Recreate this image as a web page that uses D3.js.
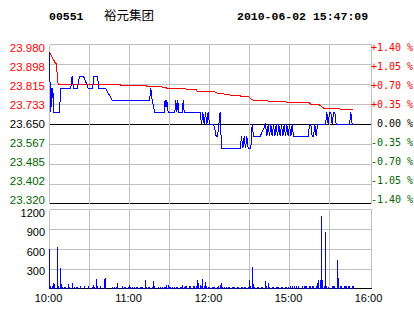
<!DOCTYPE html>
<html>
<head>
<meta charset="utf-8">
<script src="https://cdn.jsdelivr.net/npm/d3@7"></script>
<style>
html, body { margin: 0; padding: 0; background: #fff; }
svg { display: block; }
</style>
</head>
<body>
<div id="chart"></div>
<script>
// --- Data ---
const stockCode = "00551";
const stockName = "裕元集团";
const stamp = "2010-06-02 15:47:09";

const priceTicks = ["23.980", "23.898", "23.815", "23.733", "23.650", "23.567", "23.485", "23.402", "23.320"];
const pctTicks = ["+1.40 %", "+1.05 %", "+0.70 %", "+0.35 %", " 0.00 %", "-0.35 %", "-0.70 %", "-1.05 %", "-1.40 %"];
const volTicks = [1200, 900, 600, 300];
const timeTicks = [0, 60, 120, 180, 240];            // trading minutes from 10:00 (lunch cut out)
const timeLabels = ["10:00", "11:00", "12:00", "15:00", "16:00"];

// [minute, price]
const priceLine = [
  [0, 23.95], [0.4, 23.82], [1, 23.70], [1.6, 23.80], [2.1, 23.76], [2.5, 23.80], [3.2, 23.70],
  [7.3, 23.70], [8, 23.75], [8.6, 23.80], [16, 23.80], [17, 23.85], [18, 23.80], [21, 23.80],
  [22.5, 23.85], [25.5, 23.85], [29, 23.80], [32.5, 23.80], [33, 23.85], [36, 23.85], [37, 23.80],
  [42, 23.80], [47, 23.75], [75, 23.75], [76, 23.80], [77, 23.75], [79, 23.70], [86, 23.70],
  [86.7, 23.75], [87.3, 23.72], [88, 23.75], [89, 23.70], [94, 23.70], [94.7, 23.75], [95.5, 23.70],
  [96.2, 23.75], [97, 23.70], [99.5, 23.70], [100.3, 23.75], [101, 23.70], [113, 23.70],
  [114, 23.65], [115, 23.70], [116, 23.65], [117, 23.70], [118, 23.65], [119, 23.70], [120, 23.65],
  [123, 23.65], [124, 23.63], [125, 23.60], [126, 23.60], [127, 23.65], [128, 23.70], [129, 23.55],
  [143, 23.55], [144, 23.60], [145, 23.55], [146, 23.60], [147, 23.55], [148, 23.60], [149, 23.55],
  [151, 23.55], [152, 23.65], [153, 23.60], [158, 23.60], [162, 23.65],
  [163, 23.60], [164, 23.65], [165, 23.60], [166, 23.65], [167, 23.60], [168, 23.65], [169, 23.60],
  [170, 23.65], [171, 23.60], [172, 23.65], [173, 23.60], [174, 23.65], [175, 23.60], [176, 23.65],
  [177, 23.60], [178, 23.65], [179, 23.60], [180, 23.65], [181, 23.60], [182, 23.65], [183, 23.60],
  [194, 23.60], [195, 23.65], [196, 23.65], [197, 23.60], [198, 23.60], [199, 23.65], [200, 23.60],
  [201, 23.65], [207, 23.65], [208, 23.70], [209, 23.65], [210, 23.70], [211, 23.70], [212, 23.65],
  [213, 23.70], [214, 23.70], [215, 23.65], [225, 23.65], [226, 23.70], [227, 23.65], [228, 23.65]
];

// [minute, average price]
const avgLine = [
  [0, 23.950], [4, 23.908], [5.3, 23.899], [6, 23.830], [6.5, 23.817], [52, 23.815], [54, 23.812],
  [71, 23.810], [76, 23.807], [87, 23.804], [88, 23.800], [102, 23.799], [103, 23.794], [110, 23.793],
  [111, 23.787], [124, 23.785], [125, 23.780], [130, 23.778], [132, 23.774], [135, 23.773],
  [136, 23.768], [149, 23.767], [151, 23.755], [153, 23.750], [163, 23.748], [164, 23.746],
  [177, 23.745], [178, 23.740], [195, 23.739], [196, 23.733], [202, 23.732], [205, 23.720],
  [206, 23.714], [228, 23.713]
];

// volume per minute, minute 0 .. 228
const volume = [
  600, 45, 40, 95, 70, 0, 640, 40, 320, 80,
  30, 30, 30, 0, 70, 30, 0, 90, 0, 30,
  30, 30, 0, 40, 0, 0, 40, 0, 0, 40,
  0, 0, 30, 60, 30, 145, 40, 0, 40, 0,
  0, 145, 167, 0, 0, 0, 0, 30, 0, 30,
  30, 90, 0, 0, 0, 40, 30, 30, 0, 30,
  60, 30, 30, 0, 30, 30, 30, 0, 30, 30,
  30, 0, 135, 30, 30, 30, 0, 30, 120, 40,
  0, 0, 30, 30, 0, 30, 30, 30, 65, 60,
  30, 30, 30, 0, 30, 30, 30, 0, 30, 30,
  60, 30, 40, 40, 0, 40, 40, 0, 40, 40,
  40, 140, 90, 60, 40, 155, 40, 100, 40, 30,
  30, 0, 30, 30, 30, 0, 30, 40, 60, 90,
  30, 30, 0, 30, 30, 30, 0, 30, 30, 30,
  0, 30, 30, 0, 30, 30, 30, 30, 0, 30,
  140, 40, 335, 80, 30, 0, 30, 30, 0, 30,
  30, 0, 115, 40, 95, 30, 0, 30, 30, 0,
  30, 30, 30, 0, 30, 30, 0, 30, 30, 30,
  0, 35, 35, 0, 35, 35, 0, 35, 0, 0,
  35, 35, 40, 35, 0, 35, 35, 50, 40, 0,
  35, 90, 140, 140, 1100, 130, 40, 870, 40, 30,
  0, 0, 35, 40, 35, 0, 430, 165, 35, 35,
  0, 35, 35, 40, 35, 35, 0, 35, 35
];

// --- Chart ---
const W = 414, H = 314;
const RED = "#ff0000", GREEN = "#006400", GRID = "#c0c0c0", BLUE = "#0000ff";
const crisp = v => Math.floor(v) + 0.5;

const svg = d3.select('#chart').append('svg').attr('width', W).attr('height', H)
  .style('font-family', '"Liberation Sans", Arial, sans-serif');

const x = d3.scaleLinear().domain([0, 240]).range([49.5, 369.5]);
const xRight = 371;
const y = d3.scaleLinear().domain([23.32, 23.98]).range([203.8, 44.8]);
const yv = d3.scaleLinear().domain([0, 1200]).range([288.8, 209.8]);
// label rows sit a bit off the grid rows in the original
const labelY = d3.scaleLinear().domain([0, 8]).range([47.5, 199.5]);
const volLabelY = d3.scaleLinear().domain([1200, 300]).range([213.3, 270.7]);

const colorFor = i => i < 4 ? RED : (i === 4 ? "#000" : GREEN);

// header
svg.append('text').attr('x', 49).attr('y', 20).text(stockCode)
  .style('font-family', '"Liberation Mono", monospace').style('font-weight', 'bold').style('font-size', '11.5px');
svg.append('text').attr('x', 104).attr('y', 20).text(stockName)
  .style('font-family', '"Noto Sans CJK SC", sans-serif').style('font-size', '12.5px');
svg.append('text').attr('x', 237).attr('y', 20).text(stamp)
  .style('font-family', '"Liberation Mono", monospace').style('font-weight', 'bold').style('font-size', '11.5px');

const grid = svg.append('g').attr('shape-rendering', 'crispEdges');

// main panel grid
priceTicks.forEach((t, i) => {
  const yy = crisp(y(+t));
  grid.append('line').attr('x1', x(0)).attr('x2', xRight + 0.5).attr('y1', yy).attr('y2', yy)
    .attr('stroke', (i === 4 || i === 8) ? '#000' : GRID);
});
d3.range(0, 241, 30).forEach(m => {
  const xx = m === 240 ? xRight + 0.5 : crisp(x(m));
  grid.append('line').attr('x1', xx).attr('x2', xx).attr('y1', crisp(y(23.98))).attr('y2', crisp(y(23.32)))
    .attr('stroke', GRID);
  grid.append('line').attr('x1', xx).attr('x2', xx).attr('y1', crisp(yv(1200))).attr('y2', crisp(yv(0)))
    .attr('stroke', GRID);
});
// volume panel grid
[1200, 900, 600, 300, 0].forEach(v => {
  const yy = crisp(yv(v));
  grid.append('line').attr('x1', x(0)).attr('x2', xRight + 0.5).attr('y1', yy).attr('y2', yy)
    .attr('stroke', v === 0 ? '#000' : GRID);
});

// price axis labels
svg.append('g').selectAll('text').data(priceTicks).join('text')
  .attr('x', 45).attr('y', (d, i) => labelY(i) + 4)
  .attr('text-anchor', 'end').attr('fill', (d, i) => colorFor(i))
  .style('font-size', '11.5px').text(d => d);

svg.append('g').selectAll('text').data(pctTicks).join('text')
  .attr('x', 371).attr('y', (d, i) => labelY(i) + 3.6)
  .attr('fill', (d, i) => colorFor(i)).attr('xml:space', 'preserve')
  .style('font-family', '"DejaVu Sans Mono", monospace').style('font-size', '10px').style('white-space', 'pre')
  .text(d => d);

svg.append('g').selectAll('text').data(volTicks).join('text')
  .attr('x', 45).attr('y', d => volLabelY(d) + 4)
  .attr('text-anchor', 'end').style('font-size', '11px').text(d => d);

svg.append('g').selectAll('text').data(timeTicks).join('text')
  .attr('x', d => x(d) - 1).attr('y', 302)
  .attr('text-anchor', 'middle').style('font-size', '11px').text((d, i) => timeLabels[i]);

// volume bars
svg.append('g').attr('shape-rendering', 'crispEdges').selectAll('rect')
  .data(volume.map((v, i) => [i, v]).filter(d => d[1] > 0)).join('rect')
  .attr('x', d => Math.floor(x(d[0])))
  .attr('width', 1)
  .attr('y', d => yv(d[1]))
  .attr('height', d => yv(0) - yv(d[1]))
  .attr('fill', BLUE);

// lines
const line = d3.line().x(d => x(d[0])).y(d => y(d[1]));
svg.append('path').datum(avgLine).attr('d', line)
  .attr('fill', 'none').attr('stroke', RED).attr('stroke-width', 1).attr('shape-rendering', 'crispEdges');
svg.append('path').datum(priceLine).attr('d', line)
  .attr('fill', 'none').attr('stroke', BLUE).attr('stroke-width', 1).attr('shape-rendering', 'crispEdges');
</script>
</body>
</html>
